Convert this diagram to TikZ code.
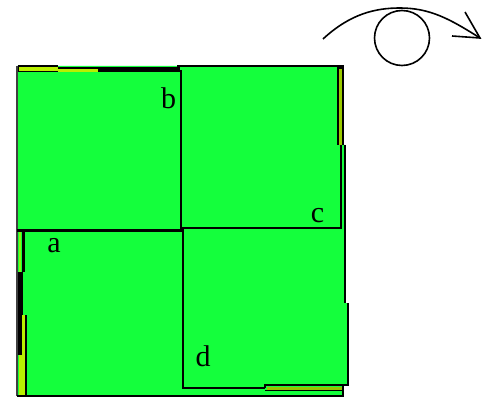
\documentclass[tikz,border=0pt]{standalone}
\usepackage{fontspec}
\setmainfont{Liberation Serif}
\definecolor{tilegreen}{HTML}{14FF3C}
\definecolor{edgeyellow}{HTML}{B8F000}
\definecolor{edgeolive}{HTML}{98C000}
\tikzset{
  ink/.style={line width=2.8pt,draw=black,line join=miter},
  thin ink/.style={line width=1.6pt,draw=black},
  letter/.style={font=\fontsize{30}{30}\selectfont,inner sep=0pt,text=black}
}
\begin{document}
\begin{tikzpicture}[x=1pt,y=-1pt]
\useasboundingbox (0,0) rectangle (495,398);
% sheet
\fill[tilegreen] (17,66) -- (343,66) -- (343,145) -- (345,145) -- (345,303) -- (348,303) -- (348,385) -- (343,385) -- (343,396) -- (17,396) -- cycle;
\draw[line width=2.4pt,draw=black!75] (17,396) -- (17,66);
\draw[ink] (18,66) -- (58,66);
\draw[ink] (177,66) -- (343,66) -- (343,145);
\draw[ink] (345,145) -- (345,303);
\draw[ink] (348,303) -- (348,385) -- (265,385) -- (265,388);
\draw[ink] (343,385) -- (343,396) -- (17,396);
% black bands
\fill[black] (18,67) rectangle (180,72);
\fill[black] (18,272) rectangle (23,355);
\fill[black] (337,67) rectangle (343,145);
% yellow edges
\fill[edgeyellow] (18.5,67.5) rectangle (58,71.5);
\fill[edgeyellow] (58,69) rectangle (98,72);
% tile outlines
\draw[ink] (181,70) -- (181,229);
\draw[ink] (181,228) -- (341,228) -- (341,145);
\draw[ink] (17,230.5) -- (183,230.5);
\draw[ink] (183,228) -- (183,388) -- (265,388);
\draw[ink] (23.5,231) -- (23.5,272);
\draw[ink] (25.5,315) -- (25.5,396);
\draw[line width=1.5pt] (265,390.5) -- (343,390.5);
\draw[line width=1.5pt] (21,315) -- (21,355);
\fill[edgeyellow] (18.5,355) rectangle (23,394.5);
\fill[edgeyellow] (22,315) rectangle (25,394.5);
\fill[edgeyellow!70!tilegreen] (18.5,232) rectangle (21,272);
\fill[edgeyellow!85!black] (339,69) rectangle (341.5,145);
\fill[edgeolive] (267,386.5) rectangle (342,389.5);
% labels
\node[letter] (a) at (54,246) {a};
\node[letter] (b) at (168.5,98) {b};
\node[letter] (c) at (317.5,216) {c};
\node[letter] (d) at (203,356) {d};
% rotation mark
\node[circle,draw=black,line width=1.6pt,minimum size=55pt,inner sep=0pt] (eye) at (402,38) {};
\coordinate (tail) at (323,39);
\coordinate (tip) at (480,38);
\coordinate (barbA) at (465,12);
\coordinate (barbB) at (452,36);
\draw[thin ink] (tail) .. controls (350,14) and (375,8) .. (400,8) .. controls (430,8) and (450,19) .. (tip);
\draw[thin ink] (barbA) -- (tip) -- (barbB);
\end{tikzpicture}
\end{document}
